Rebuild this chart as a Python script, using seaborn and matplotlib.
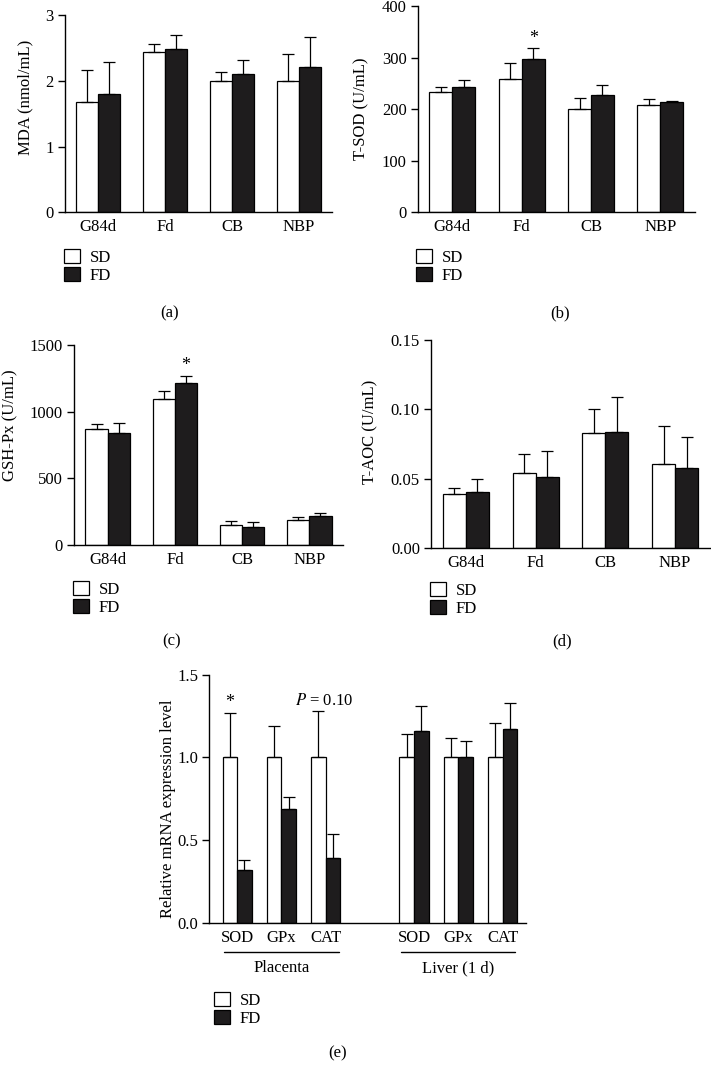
import numpy as np
import pandas as pd
import seaborn as sns
import matplotlib
matplotlib.use("Agg")
import matplotlib.pyplot as plt
from matplotlib.patches import Patch
from matplotlib.transforms import blended_transform_factory

# ---------------- data ----------------
groups = ["G84d", "Fd", "CB", "NBP"]
diets = ["SD", "FD"]

mda_sd = [1.67, 2.44, 2.00, 2.00]
mda_fd = [1.80, 2.49, 2.11, 2.21]
mda_sd_top = [2.17, 2.56, 2.14, 2.40]
mda_fd_top = [2.28, 2.69, 2.31, 2.66]

sod_sd = [234, 259, 201, 209]
sod_fd = [242, 297, 227, 214]
sod_sd_top = [242, 290, 221, 220]
sod_fd_top = [256, 318, 246, 215]

gsh_sd = [867, 1092, 150, 190]
gsh_fd = [842, 1217, 135, 220]
gsh_sd_top = [905, 1155, 180, 210]
gsh_fd_top = [917, 1270, 175, 237]

aoc_sd = [0.0389, 0.054, 0.083, 0.061]
aoc_fd = [0.0406, 0.0516, 0.084, 0.058]
aoc_sd_top = [0.0437, 0.0682, 0.100, 0.0878]
aoc_fd_top = [0.0502, 0.0698, 0.109, 0.080]

genes = ["SOD", "GPx", "CAT"]
tissues = ["Placenta", "Liver (1 d)"]
gene_slots = ["P_SOD", "P_GPx", "P_CAT", "gap", "L_SOD", "L_GPx", "L_CAT"]
mrna_sd = [1.0, 1.0, 1.0, 1.0, 1.0, 1.0]
mrna_fd = [0.32, 0.69, 0.39, 1.16, 1.00, 1.17]
mrna_sd_top = [1.27, 1.19, 1.28, 1.14, 1.12, 1.21]
mrna_fd_top = [0.38, 0.76, 0.54, 1.31, 1.10, 1.33]

BLACK = "#1e1c1d"
W, H = 711, 1076

sns.set_style("ticks")
plt.rcParams["font.family"] = ["Liberation Serif", "DejaVu Serif"]
plt.rcParams["mathtext.fontset"] = "stix"
plt.rcParams["axes.linewidth"] = 1.0
plt.rcParams["axes.edgecolor"] = "black"
plt.rcParams["xtick.color"] = "black"
plt.rcParams["ytick.color"] = "black"
plt.rcParams["text.color"] = "black"
plt.rcParams["axes.labelcolor"] = "black"

fig = plt.figure(figsize=(W / 100, H / 100), dpi=100)


def rect(left, top, right, bottom):
    return [left / W, 1 - bottom / H, (right - left) / W, (bottom - top) / H]


def long_df(cats, sd, fd):
    return pd.DataFrame({
        "cat": list(cats) * 2,
        "diet": ["SD"] * len(cats) + ["FD"] * len(cats),
        "val": list(sd) + list(fd),
    })


def draw_panel(ax, cats, order, sd, fd, sd_top, fd_top, ylim, yticks, fmt,
               ylabel, ylab_x, ylab_y):
    df = long_df(cats, sd, fd)
    sns.barplot(data=df, x="cat", y="val", hue="diet", order=order,
                hue_order=diets, palette=["white", BLACK], saturation=1,
                edgecolor="black", linewidth=0.9, width=0.66, errorbar=None,
                legend=False, ax=ax)
    # error bars (upper only)
    tops = {("SD", c): t for c, t in zip(cats, sd_top)}
    tops.update({("FD", c): t for c, t in zip(cats, fd_top)})
    for diet, cont in zip(diets, ax.containers):
        for bar in cont:
            xc = bar.get_x() + bar.get_width() / 2
            pos = int(round(xc))
            cat = order[pos]
            h = bar.get_height()
            t = tops[(diet, cat)]
            ax.errorbar([xc], [h], yerr=[[0], [t - h]], fmt="none",
                        ecolor="black", elinewidth=0.9, capsize=4.5,
                        capthick=0.9, zorder=1)
    ax.set_ylim(*ylim)
    ax.set_yticks(yticks)
    ax.set_yticklabels([fmt.format(v) for v in yticks])
    ax.set_xlabel("")
    ax.set_ylabel(ylabel, fontsize=12)
    ax.yaxis.set_label_coords(ylab_x, ylab_y)
    ax.tick_params(axis="x", length=0, labelsize=12, pad=5)
    ax.tick_params(axis="y", length=5, width=1.0, labelsize=12, pad=3)
    sns.despine(ax=ax)
    return ax


def add_legend(x, y):
    handles = [Patch(facecolor="white", edgecolor="black", linewidth=0.9),
               Patch(facecolor=BLACK, edgecolor="black", linewidth=0.9)]
    fig.legend(handles=handles, labels=diets, loc="upper left",
               bbox_to_anchor=(x / W, 1 - y / H), frameon=False,
               handlelength=0.95, handleheight=0.95, handletextpad=0.6,
               labelspacing=0.05, borderpad=0, borderaxespad=0, fontsize=12)


# (a) MDA
ax_a = fig.add_axes(rect(65, 15, 332, 212.3))
draw_panel(ax_a, groups, groups, mda_sd, mda_fd, mda_sd_top, mda_fd_top,
           (0, 3), [0, 1, 2, 3], "{:d}", "MDA (nmol/mL)", -0.12, 0.58)
ax_a.set_xlim(-0.5, 3.5)
add_legend(64, 249)
fig.text(170 / W, 1 - 313 / H, "(a)", ha="center", va="center", fontsize=12)

# (b) T-SOD
ax_b = fig.add_axes(rect(417.7, 6, 695, 212.3))
draw_panel(ax_b, groups, groups, sod_sd, sod_fd, sod_sd_top, sod_fd_top,
           (0, 400), [0, 100, 200, 300, 400], "{:d}", "T-SOD (U/mL)", -0.176, 0.5)
ax_b.set_xlim(-0.5, 3.5)
ax_b.annotate("*", xy=(1.165, sod_fd_top[1]), xytext=(0, 1), textcoords="offset points",
              ha="center", va="bottom", fontsize=13)
add_legend(416, 249)
fig.text(560 / W, 1 - 313 / H, "(b)", ha="center", va="center", fontsize=12)

# (c) GSH-Px
ax_c = fig.add_axes(rect(74, 345, 343, 545))
draw_panel(ax_c, groups, groups, gsh_sd, gsh_fd, gsh_sd_top, gsh_fd_top,
           (0, 1500), [0, 500, 1000, 1500], "{:d}", "GSH-Px (U/mL)", -0.205, 0.6)
ax_c.set_xlim(-0.5, 3.5)
ax_c.annotate("*", xy=(1.165, gsh_fd_top[1]), xytext=(0, 1), textcoords="offset points",
              ha="center", va="bottom", fontsize=13)
add_legend(73, 581)
fig.text(172 / W, 1 - 641 / H, "(c)", ha="center", va="center", fontsize=12)

# (d) T-AOC
ax_d = fig.add_axes(rect(431, 340, 710, 548.3))
draw_panel(ax_d, groups, groups, aoc_sd, aoc_fd, aoc_sd_top, aoc_fd_top,
           (0, 0.15), [0.0, 0.05, 0.10, 0.15], "{:.2f}", "T-AOC (U/mL)", -0.19, 0.56)
ax_d.set_xlim(-0.5, 3.5)
add_legend(430, 582)
fig.text(562 / W, 1 - 641 / H, "(d)", ha="center", va="center", fontsize=12)

# (e) relative mRNA
ax_e = fig.add_axes(rect(209.3, 674.7, 526, 923))
slots_used = [s for s in gene_slots if s != "gap"]
draw_panel(ax_e, slots_used, gene_slots, mrna_sd, mrna_fd, mrna_sd_top, mrna_fd_top,
           (0, 1.5), [0.0, 0.5, 1.0, 1.5], "{:.1f}", "Relative mRNA expression level",
           -0.105, 0.46)
ax_e.set_xlim(-0.63, 6.53)
ax_e.set_xticks([0, 1, 2, 4, 5, 6])
ax_e.set_xticklabels(genes + genes)
ax_e.annotate("*", xy=(-0.165, mrna_sd_top[0]), xytext=(0, 1), textcoords="offset points",
              ha="center", va="bottom", fontsize=13)
ax_e.text(1.96, 1.34, "$P$ = 0.10", ha="center", va="center", fontsize=12)
tr = blended_transform_factory(ax_e.transData, ax_e.transAxes)
axh = 923 - 674.7
line_y = -(951.7 - 923) / axh
lab_y = -(968 - 923) / axh
for (x0, x1), name in zip([(-0.30, 2.30), (3.70, 6.28)], tissues):
    ax_e.plot([x0, x1], [line_y, line_y], color="black", lw=1.0,
              transform=tr, clip_on=False)
    ax_e.text((x0 + x1) / 2, lab_y, name, ha="center", va="center",
              fontsize=12, transform=tr)
add_legend(214, 992)
fig.text(338 / W, 1 - 1053 / H, "(e)", ha="center", va="center", fontsize=12)

fig.savefig("out.png", dpi=100)
